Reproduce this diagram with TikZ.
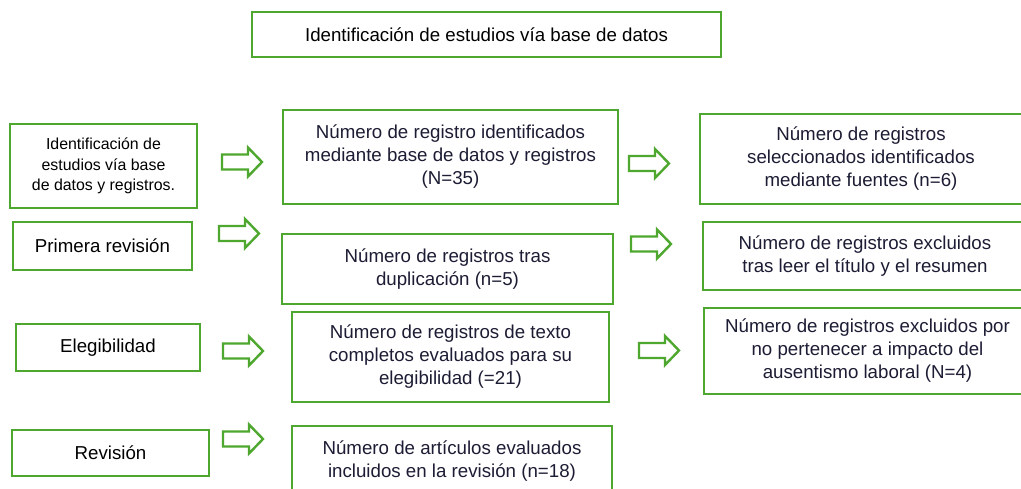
\documentclass[tikz,border=0pt]{standalone}
\usepackage{fontspec}
\setmainfont{Liberation Sans}
\definecolor{gr}{RGB}{78,167,46}
\definecolor{navy}{RGB}{28,28,52}
\begin{document}
\begin{tikzpicture}[x=1pt,y=-1pt,
  box/.style={draw=gr, line width=2.8pt, fill=white, align=center, inner sep=0pt,
    font=\fontsize{18.7}{23}\selectfont, text=navy},
  lbox/.style={box, text=black},
  arrowline/.style={draw=gr, line width=2.4pt, fill=white, line join=miter},
  blockarrow/.pic={\path[arrowline] (0,-7.5) -- (26,-7.5) -- (26,-14.5) -- (40,0) -- (26,14.5) -- (26,7.5) -- (0,7.5) -- cycle;}
]
\useasboundingbox (0,0) rectangle (1021,489);
\clip (0,0) rectangle (1021,489);
% title
\node[lbox, minimum width=469pt, minimum height=45pt] (title) at (486.5,34.5) {Identificación de estudios vía base de datos};
% left column
\node[lbox, minimum width=187pt, minimum height=84pt, font=\fontsize{15.9}{20.5}\selectfont] (l1) at (103.5,166) {Identificación de\\estudios vía base\\de datos y registros.};
\node[lbox, minimum width=179pt, minimum height=48pt] (l2) at (102.5,246) {Primera revisión};
\node[lbox, minimum width=184pt, minimum height=47pt] (l3) at (108,347.5) {Elegibilidad};
\node[lbox, minimum width=197pt, minimum height=46pt] (l4) at (110.5,453) {Revisión};
% middle column
\node[box, minimum width=335pt, minimum height=94pt] (m1) at (450.5,157) {Número de registro identificados\\mediante base de datos y registros\\(N=35)};
\node[box, minimum width=331pt, minimum height=70pt] (m2) at (447.5,269) {Número de registros tras\\duplicación (n=5)};
\node[box, minimum width=317pt, minimum height=90pt] (m3) at (450.5,357) {Número de registros de texto\\completos evaluados para su\\elegibilidad (=21)};
\node[box, minimum width=320pt, minimum height=70pt] (m4) at (452,461) {Número de artículos evaluados\\incluidos en la revisión (n=18)};
% right column
\node[box, minimum width=322pt, minimum height=90pt] (r1) at (861,159) {Número de registros\\seleccionados identificados\\mediante fuentes (n=6)};
\node[box, minimum width=324pt, minimum height=68pt] (r2) at (865,256) {Número de registros excluidos\\tras leer el título y el resumen};
\node[box, minimum width=327pt, minimum height=86pt] (r3) at (867.5,351) {Número de registros excluidos por\\no pertenecer a impacto del\\ausentismo laboral (N=4)};
% block arrows
\pic (a1) at (222,162) {blockarrow};
\pic (a2) at (219,233.5) {blockarrow};
\pic (a3) at (223,351) {blockarrow};
\pic (a4) at (223,439) {blockarrow};
\pic (b1) at (629,163.5) {blockarrow};
\pic (b2) at (631,244) {blockarrow};
\pic (b3) at (639,350.5) {blockarrow};
\end{tikzpicture}
\end{document}
